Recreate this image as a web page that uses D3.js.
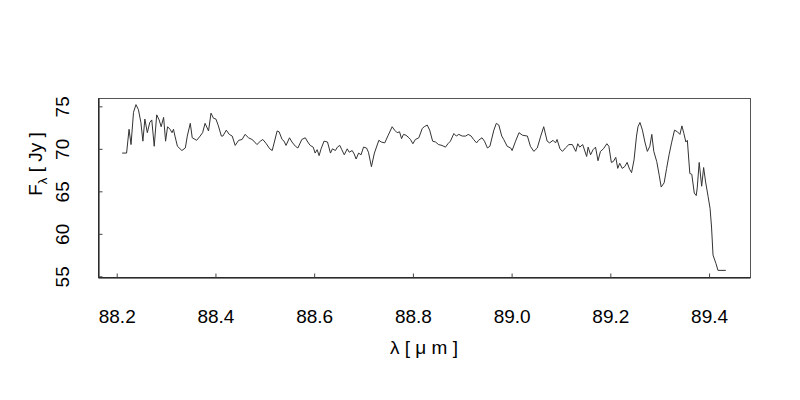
<!DOCTYPE html>
<html>
<head>
<meta charset="utf-8">
<script src="https://cdn.jsdelivr.net/npm/d3@7"></script>
<style>
  body { margin: 0; background: #fff; }
  text { font-family: "Liberation Sans", Arial, sans-serif; }
</style>
</head>
<body>
<svg width="800" height="400"></svg>
<script>
// wavelength (micron) and flux (Jy)
var wave = [
  88.211, 88.220, 88.225, 88.229, 88.234, 88.239, 88.244, 88.249, 88.253, 88.257,
  88.262, 88.267, 88.271, 88.276, 88.281, 88.286, 88.290, 88.295, 88.299, 88.303,
  88.308, 88.312, 88.315, 88.318, 88.323, 88.332, 88.339, 88.343, 88.349, 88.353,
  88.362, 88.369, 88.374, 88.379, 88.386, 88.391, 88.396, 88.401, 88.406, 88.412,
  88.415, 88.422, 88.428, 88.434, 88.440, 88.447, 88.454, 88.460, 88.467, 88.474,
  88.478, 88.484, 88.491,
  88.496, 88.503, 88.510, 88.515, 88.525, 88.529, 88.535, 88.539, 88.543, 88.550,
  88.555, 88.562, 88.567, 88.575, 88.582, 88.587, 88.592, 88.598, 88.602, 88.606,
  88.610, 88.614, 88.620, 88.627, 88.633, 88.637, 88.643, 88.647, 88.652, 88.656,
  88.661, 88.667, 88.671, 88.677, 88.681, 88.685, 88.690, 88.695, 88.700, 88.706,
  88.710, 88.716, 88.722, 88.731, 88.736, 88.743, 88.750, 88.758, 88.763, 88.768,
  88.773, 88.777, 88.781, 88.786, 88.792,
  88.795, 88.800, 88.805, 88.812, 88.819, 88.823, 88.829, 88.834, 88.840, 88.846,
  88.852, 88.859, 88.866, 88.871, 88.876, 88.883, 88.888, 88.893, 88.900, 88.907,
  88.912, 88.918, 88.923, 88.929, 88.933, 88.940, 88.945, 88.951, 88.956, 88.964,
  88.969, 88.974, 88.980, 88.984, 88.991, 88.998, 89.001, 89.008, 89.015, 89.022,
  89.032, 89.038, 89.045, 89.052, 89.059, 89.065, 89.072, 89.077,
  89.084, 89.089, 89.092, 89.098, 89.103, 89.109, 89.116, 89.123, 89.130, 89.134,
  89.138, 89.144, 89.152, 89.155, 89.160, 89.165, 89.170, 89.175, 89.180, 89.186,
  89.193, 89.197, 89.202, 89.206, 89.211, 89.215, 89.219, 89.224, 89.229, 89.234,
  89.239, 89.243, 89.248, 89.253, 89.256, 89.260, 89.265, 89.270, 89.275, 89.280,
  89.284, 89.288, 89.294, 89.299, 89.303, 89.309, 89.314, 89.319, 89.324, 89.330,
  89.336, 89.341, 89.345, 89.349, 89.353, 89.356, 89.361, 89.365, 89.370, 89.374,
  89.376, 89.380, 89.385, 89.389, 89.393, 89.398, 89.402, 89.405, 89.408, 89.414,
  89.418, 89.434
];
var flux = [
  69.5, 69.5, 72.3, 70.5, 74.3, 75.2, 74.6, 73.1, 70.9, 73.5,
  71.9, 73.1, 73.4, 70.3, 74.0, 73.4, 72.6, 73.7, 70.9, 72.6,
  72.3, 71.9, 72.3, 71.5, 70.3, 69.8, 70.1, 71.5, 73.0, 71.3,
  71.0, 71.5, 71.9, 73.0, 72.1, 74.2, 73.6, 73.5, 72.7, 71.5,
  71.5, 72.2, 71.7, 71.5, 70.4, 71.0, 71.1, 71.7, 71.3, 71.1,
  70.9, 70.5, 70.9,
  71.1, 70.6, 70.0, 69.8, 72.1, 72.0, 71.1, 70.9, 70.4, 71.3,
  70.8, 70.3, 70.1, 71.1, 71.3, 70.8, 70.4, 70.2, 69.5, 69.9,
  69.2, 70.0, 70.9, 70.8, 69.5, 70.0, 69.8, 70.2, 70.4, 69.9,
  69.3, 70.0, 69.6, 69.8, 69.4, 68.8, 69.5, 69.3, 70.2, 70.1,
  69.6, 67.9, 69.5, 71.0, 70.8, 70.7, 71.6, 72.6, 72.2, 71.9,
  72.0, 71.2, 71.7, 71.6, 71.3,
  71.1, 70.6, 71.1, 71.3, 72.4, 72.6, 72.8, 72.2, 70.9, 70.8,
  70.5, 70.4, 70.2, 70.6, 70.9, 71.8, 71.5, 71.7, 71.5, 71.5,
  71.7, 71.5, 71.1, 70.7, 71.0, 71.3, 70.9, 70.1, 70.3, 72.2,
  73.0, 72.8, 71.5, 71.1, 70.3, 70.1, 69.8, 70.9, 71.9, 71.6,
  71.5, 70.3, 69.7, 70.1, 71.5, 72.6, 70.9, 70.7,
  71.0, 70.7, 71.1, 70.0, 69.7, 70.1, 70.5, 70.5, 69.7, 70.6,
  70.2, 70.5, 69.1, 70.2, 69.3, 69.9, 70.2, 68.6, 69.7, 70.0,
  70.6, 70.3, 68.4, 68.5, 69.0, 67.7, 68.3, 67.7, 67.9, 68.4,
  67.6, 67.2, 68.7, 71.5, 72.6, 73.1, 72.2, 70.8, 69.7, 70.3,
  71.7, 69.7, 68.5, 66.9, 65.5, 66.0, 67.7, 69.3, 70.7, 72.2,
  72.0, 71.7, 72.7, 71.8, 70.8, 71.0, 67.1, 67.0, 64.8, 64.5,
  65.4, 68.4, 65.6, 67.8, 66.1, 64.4, 63.0, 60.8, 57.5, 56.5,
  55.7, 55.7
];
var xTicks = [88.2, 88.4, 88.6, 88.8, 89.0, 89.2, 89.4];
var yTicks = [55, 60, 65, 70, 75];

var svg = d3.select("svg"),
    margin = {top: 98, right: 50, bottom: 123, left: 98},
    width = 800 - margin.left - margin.right,
    height = 400 - margin.top - margin.bottom;

var data = wave.map(function(w, i) { return {x: w, y: flux[i]}; });

// pad the data range by 4% on each side, like R does
function padded(ext) {
  var r = ext[1] - ext[0];
  return [ext[0] - 0.04 * r, ext[1] + 0.04 * r];
}

var x = d3.scaleLinear().domain(padded(d3.extent(wave))).range([0, width]);
var y = d3.scaleLinear().domain(padded(d3.extent(flux))).range([height, 0]);

var g = svg.append("g").attr("transform", "translate(" + margin.left + "," + margin.top + ")");

// box
g.append("rect")
    .attr("x", 0.5).attr("y", 0.5)
    .attr("width", width).attr("height", height)
    .attr("fill", "none")
    .attr("stroke", "#555")
    .attr("stroke-width", 1);

var xAxis = g.append("g")
    .attr("transform", "translate(0," + (height + 0.5) + ")")
    .call(d3.axisBottom(x).tickValues(xTicks).tickFormat(d3.format(".1f")).tickSizeInner(-4).tickSizeOuter(0).tickPadding(32));

var yAxis = g.append("g")
    .attr("transform", "translate(0.5,0)")
    .call(d3.axisLeft(y).tickValues(yTicks).tickSizeInner(-4).tickSizeOuter(0).tickPadding(0));

xAxis.select(".domain").attr("stroke", "#000");
yAxis.select(".domain").attr("stroke", "#000");
g.selectAll(".tick line").attr("stroke", "#444");

xAxis.selectAll("text")
    .attr("font-size", 19)
    .attr("fill", "#000");

yAxis.selectAll(".tick text")
    .attr("font-size", 19)
    .attr("fill", "#000")
    .attr("x", null)
    .attr("dy", null)
    .attr("text-anchor", "middle")
    .attr("transform", "translate(-36,0) rotate(-90)")
    .attr("dominant-baseline", "central");

// spectrum
var line = d3.line()
    .x(function(d) { return x(d.x); })
    .y(function(d) { return y(d.y); });

g.append("path")
    .datum(data)
    .attr("fill", "none")
    .attr("stroke", "#333")
    .attr("stroke-width", 1)
    .attr("d", line);

// axis titles
g.append("text")
    .attr("x", width / 2)
    .attr("y", height + 77)
    .attr("text-anchor", "middle")
    .attr("font-size", 19)
    .text("λ [ μ m ]");

var ylab = g.append("text")
    .attr("transform", "translate(-56,66) rotate(-90)")
    .attr("text-anchor", "middle")
    .attr("font-size", 19);
ylab.append("tspan").text("F");
ylab.append("tspan").attr("font-size", 13).attr("dy", 5).text("λ");
ylab.append("tspan").attr("dy", -5).text(" [ Jy ]");
</script>
</body>
</html>
